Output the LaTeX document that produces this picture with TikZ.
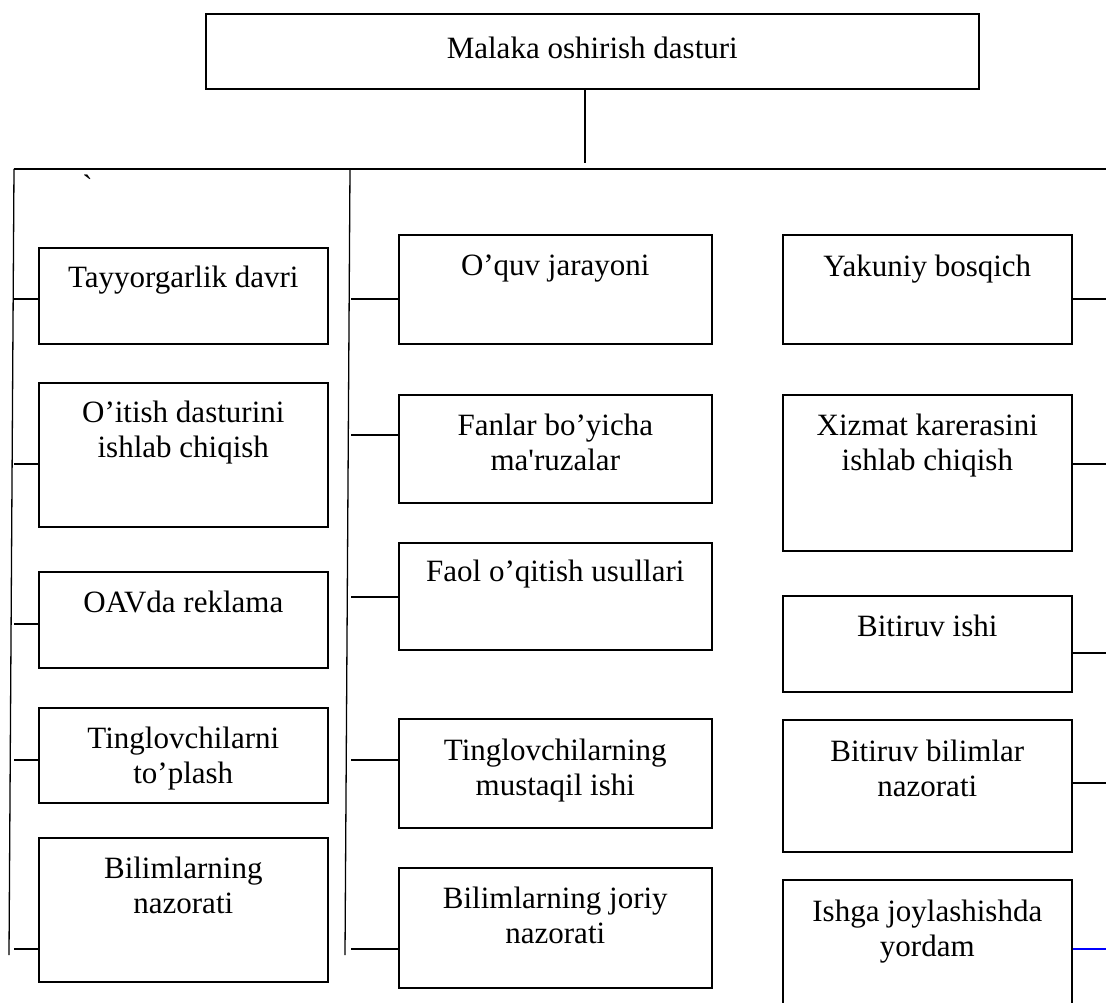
\documentclass[tikz,border=0pt]{standalone}
\usepackage{fontspec}
\setmainfont{Liberation Serif}
\begin{document}
\begin{tikzpicture}[x=1pt,y=-1pt,
  box/.style={draw, line width=1.6pt, rectangle, inner sep=0pt, anchor=north west},
  lbl/.style={anchor=north, inner sep=0pt, align=center, font=\fontsize{31}{35.5}\selectfont},
  wire/.style={line width=1.3pt}]
\path[use as bounding box] (0,0) rectangle (1106,1003);
\clip (0,0) rectangle (1106,1003);
\fill[white] (0,0) rectangle (1106,1003);

% programme title
\node[box, minimum width=773, minimum height=75] (top) at (205,13) {};
\node[lbl] (topt) at ([yshift=-23.5pt]top.north) {Malaka oshirish dasturi};

% stem and main bus
\coordinate (stem) at (585,163);
\draw[wire] (stem |- top.south) -- (stem);
\coordinate (busL) at (14,169);
\coordinate (busR) at (1106,169);
\draw[wire] (busL) -- (busR);
\coordinate (heavyA) at (902,169);
\coordinate (heavyB) at (975,169);
\draw[line width=2.4pt] (heavyA) -- (heavyB);
\node[inner sep=0pt, anchor=north, font=\fontsize{31}{35.5}\selectfont] (grave) at (87.5,175) {\textasciigrave};

% spines of the first two columns
\coordinate (lspineB) at (9,955);
\draw[wire] (busL) -- (lspineB);
\coordinate (mspineT) at (350,169);
\coordinate (mspineB) at (345,955);
\draw[wire] (mspineT) -- (mspineB);

% first column: preparation
\node[box, minimum width=289, minimum height=96]  (l1) at (38,247) {};
\node[box, minimum width=289, minimum height=144] (l2) at (38,382) {};
\node[box, minimum width=289, minimum height=96]  (l3) at (38,571) {};
\node[box, minimum width=289, minimum height=95]  (l4) at (38,707) {};
\node[box, minimum width=289, minimum height=144] (l5) at (38,837) {};
\node[lbl] (l1t) at ([yshift=-18.5pt]l1.north) {Tayyorgarlik davri};
\node[lbl] (l2t) at ([yshift=-18.5pt]l2.north) {O’itish dasturini\\ishlab chiqish};
\node[lbl] (l3t) at ([yshift=-19.5pt]l3.north) {OAVda reklama};
\node[lbl] (l4t) at ([yshift=-19.5pt]l4.north) {Tinglovchilarni\\to’plash};
\node[lbl] (l5t) at ([yshift=-19.5pt]l5.north) {Bilimlarning\\nazorati};

% second column: teaching
\node[box, minimum width=313, minimum height=109] (m1) at (398,234) {};
\node[box, minimum width=313, minimum height=108] (m2) at (398,394) {};
\node[box, minimum width=313, minimum height=107] (m3) at (398,542) {};
\node[box, minimum width=313, minimum height=109] (m4) at (398,718) {};
\node[box, minimum width=313, minimum height=120] (m5) at (398,867) {};
\node[lbl] (m1t) at ([yshift=-20.5pt]m1.north) {O’quv jarayoni};
\node[lbl] (m2t) at ([yshift=-19.5pt]m2.north) {Fanlar bo’yicha\\ma\textquotesingle ruzalar};
\node[lbl] (m3t) at ([yshift=-17.5pt]m3.north) {Faol o’qitish usullari};
\node[lbl] (m4t) at ([yshift=-20.5pt]m4.north) {Tinglovchilarning\\mustaqil ishi};
\node[lbl] (m5t) at ([yshift=-19.5pt]m5.north) {Bilimlarning joriy\\nazorati};

% third column: final stage
\node[box, minimum width=289, minimum height=109] (r1) at (782,234) {};
\node[box, minimum width=289, minimum height=156] (r2) at (782,394) {};
\node[box, minimum width=289, minimum height=96]  (r3) at (782,595) {};
\node[box, minimum width=289, minimum height=132] (r4) at (782,719) {};
\node[box, minimum width=289, minimum height=140] (r5) at (782,879) {};
\node[lbl] (r1t) at ([yshift=-20.5pt]r1.north) {Yakuniy bosqich};
\node[lbl] (r2t) at ([yshift=-19.5pt]r2.north) {Xizmat karerasini\\ishlab chiqish};
\node[lbl] (r3t) at ([yshift=-19.5pt]r3.north) {Bitiruv ishi};
\node[lbl] (r4t) at ([yshift=-20.5pt]r4.north) {Bitiruv bilimlar\\nazorati};
\node[lbl] (r5t) at ([yshift=-20.5pt]r5.north) {Ishga joylashishda\\yordam};

% branches from the left spine
\coordinate (lt1) at (14,299);
\coordinate (lt2) at (14,464);
\coordinate (lt3) at (14,624);
\coordinate (lt4) at (14,760);
\coordinate (lt5) at (14,949);
\foreach \i in {1,...,5} \draw[wire] (lt\i) -- (lt\i -| l\i.west);

% branches from the middle spine
\coordinate (mt1) at (351,299);
\coordinate (mt2) at (351,435);
\coordinate (mt3) at (351,597);
\coordinate (mt4) at (351,760);
\coordinate (mt5) at (351,949);
\foreach \i in {1,...,5} \draw[wire] (mt\i) -- (mt\i -| m\i.west);

% branches leaving the right column
\coordinate (rt1) at (1106,299);
\coordinate (rt2) at (1106,464);
\coordinate (rt3) at (1106,653);
\coordinate (rt4) at (1106,783);
\coordinate (rt5) at (1106,949);
\foreach \i in {1,...,4} \draw[wire] (rt\i -| r\i.east) -- (rt\i);
\draw[wire, blue] (rt5 -| r5.east) -- (rt5);
\end{tikzpicture}
\end{document}
